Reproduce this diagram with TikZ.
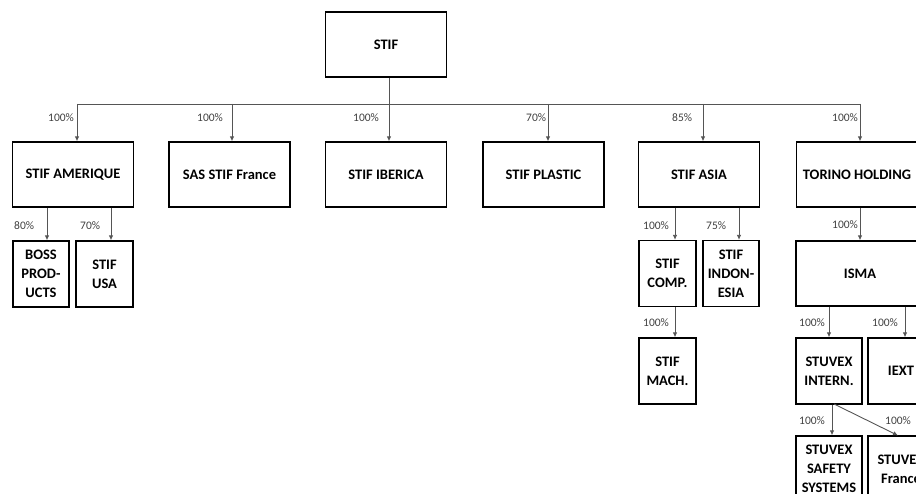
\documentclass[tikz,border=0pt]{standalone}
\usepackage{fontspec}
\setmainfont{Carlito}
\usetikzlibrary{arrows.meta,calc}
\definecolor{conn}{HTML}{555555}
\definecolor{lab}{HTML}{404040}
\tikzset{
  box/.style={draw=black, line width=1.3pt, inner sep=0pt, align=center,
    font=\fontsize{14.5}{19}\selectfont\bfseries, text=black},
  bigbox/.style={box, minimum width=121pt, minimum height=65pt},
  smallbox/.style={box, minimum width=57pt, minimum height=66pt},
  arr/.style={draw=conn, line width=0.9pt, -{Latex[length=5pt,width=4.5pt]}},
  ln/.style={draw=conn, line width=0.9pt},
  pct/.style={anchor=west, inner sep=0pt, text=lab, font=\fontsize{11.5}{12}\selectfont}
}
\begin{document}
\begin{tikzpicture}[x=1pt,y=-1pt]
\useasboundingbox (0,0) rectangle (916,494);
\clip (0,0) rectangle (916,494);
% boxes
\node[bigbox] (stif) at (386,44.5) {STIF};
\node[bigbox] (amer) at (73,174.5) {STIF AMERIQUE};
\node[bigbox] (sas) at (229.5,174.5) {SAS STIF France};
\node[bigbox] (iber) at (386,174.5) {STIF IBERICA};
\node[bigbox] (plas) at (543.5,174.5) {STIF PLASTIC};
\node[bigbox] (asia) at (699,174.5) {STIF ASIA};
\node[bigbox] (tori) at (857,174.5) {TORINO HOLDING};
\node[smallbox, minimum width=56pt] (boss) at (41,274) {BOSS\\PROD-\\UCTS};
\node[smallbox] (usa) at (104.5,274) {STIF\\USA};
\node[smallbox] (comp) at (667.5,273.5) {STIF\\COMP.};
\node[smallbox, minimum width=56pt] (indo) at (731,273.5) {STIF\\INDON-\\ESIA};
\node[smallbox] (mach) at (667.5,371) {STIF\\MACH.};
\node[box, minimum width=128pt, minimum height=65pt] (isma) at (860,273.5) {ISMA};
\node[smallbox, minimum width=66pt] (stin) at (829,371) {STUVEX\\INTERN.};
\node[smallbox, minimum width=66pt] (iext) at (901,371) {IEXT};
\node[smallbox, minimum width=66pt] (stss) at (829,469) {STUVEX\\SAFETY\\SYSTEMS};
\node[smallbox, minimum width=66pt] (stfr) at (901,469) {STUVEX\\France};
% bus taps
\coordinate (t1) at (77,104);
\coordinate (t2) at (232,104);
\coordinate (t3) at (389,104);
\coordinate (t4) at (548,104);
\coordinate (t5) at (703,104);
\coordinate (t6) at (860,104);
\draw[ln] (t1) -- (t6);
\draw[arr] (stif.south -| t3) -- (t3 |- iber.north);
\draw[arr] (t1) -- (t1 |- amer.north);
\draw[arr] (t2) -- (t2 |- sas.north);
\draw[arr] (t4) -- (t4 |- plas.north);
\draw[arr] (t5) -- (t5 |- asia.north);
\draw[arr] (t6) -- (t6 |- tori.north);
% lower taps
\coordinate (x1) at (47,0);
\coordinate (x2) at (111,0);
\coordinate (x3) at (675,0);
\coordinate (x4) at (739,0);
\coordinate (x5) at (860,0);
\coordinate (x6) at (829,0);
\coordinate (x7) at (905,0);
\coordinate (x8) at (832,0);
\draw[arr] (amer.south -| x1) -- (boss.north -| x1);
\draw[arr] (amer.south -| x2) -- (usa.north -| x2);
\draw[arr] (asia.south -| x3) -- (comp.north -| x3);
\draw[arr] (asia.south -| x4) -- (indo.north -| x4);
\draw[arr] (comp.south -| x3) -- (mach.north -| x3);
\draw[arr] (tori.south -| x5) -- (isma.north -| x5);
\draw[arr] (isma.south -| x6) -- (stin.north -| x6);
\draw[arr] (isma.south -| x7) -- (iext.north -| x7);
\draw[arr] (stin.south -| x8) -- (stss.north -| x8);
\coordinate (d1) at (834,404);
\coordinate (d2) at (898,435.5);
\draw[arr] (d1) -- (d2);
% labels
\node[pct] (p1) at (48,118) {100\%};
\node[pct] (p2) at (197,118) {100\%};
\node[pct] (p3) at (353,118) {100\%};
\node[pct] (p4) at (526,118) {70\%};
\node[pct] (p5) at (672,118) {85\%};
\node[pct] (p6) at (832,118) {100\%};
\node[pct] (p7) at (14,226) {80\%};
\node[pct] (p8) at (80,226) {70\%};
\node[pct] (p9) at (643,226) {100\%};
\node[pct] (p10) at (706,226) {75\%};
\node[pct] (p11) at (832,225) {100\%};
\node[pct] (p12) at (643,323) {100\%};
\node[pct] (p13) at (799,323) {100\%};
\node[pct] (p14) at (872,323) {100\%};
\node[pct] (p15) at (799,421) {100\%};
\node[pct] (p16) at (885,421) {100\%};
\end{tikzpicture}
\end{document}
